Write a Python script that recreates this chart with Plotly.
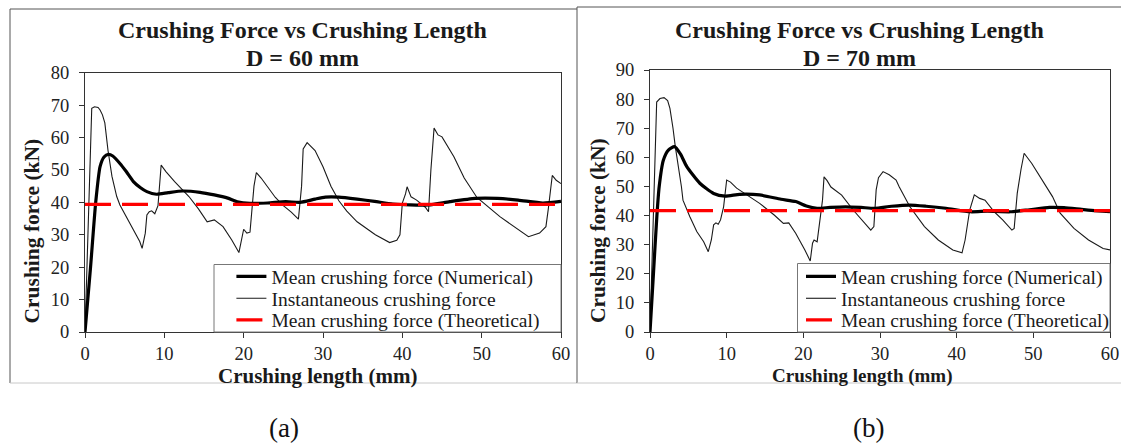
import plotly.graph_objects as go

# ---------------- DATA ----------------
# Panel (a): D = 60 mm
a_inst_x = [0, 0.4, 0.85, 1.2, 1.65, 1.9, 2.2, 2.5, 2.9, 3.4, 4.0, 4.4, 5.3, 6.1, 6.9, 7.2, 7.6, 7.8, 8.1, 8.4,
            8.8, 9.2, 9.4, 9.6, 10.2, 11.3, 13.1, 14.3, 15.4, 16.3, 17.4, 18.5, 19.4, 19.7, 20.0, 20.4, 20.8,
            21.3, 21.6, 22.2, 22.8, 24.0, 25.0, 26.0, 26.9, 27.3, 27.5, 28.0, 29.0, 30.0, 31.0, 32.0, 33.0,
            34.3, 36.6, 38.4, 39.3, 39.7, 40.0, 40.4, 40.6, 41.1, 41.8, 42.9, 43.3, 43.6, 44.0, 44.5, 45.0,
            46.5, 47.8, 49.4, 52.3, 54.6, 55.9, 57.3, 58.1, 58.4, 58.6, 58.9, 59.4, 60.0]
a_inst_y = [0, 30, 69, 69.5, 69.3, 68.5, 67, 64.5, 56, 48, 41.8, 39.2, 35.2, 31.5, 27.9, 25.8, 30.5, 36.1, 37.1, 37.4,
            36.5, 39, 45, 51.5, 49.5, 46.4, 41.8, 38, 34, 34.6, 32.5, 28.4, 24.5, 27.9, 31.7, 30.5, 30.8,
            45, 49.2, 47.5, 45.5, 41.5, 39, 37, 34.8, 45, 56.5, 58.4, 56, 51, 45, 40.5, 37.3,
            34, 30, 27.6, 28.3, 30, 39.8, 42.6, 44.8, 41.7, 40.7, 38.5, 37.1, 50, 62.9, 60.8, 60.2,
            54.1, 47.5, 41.5, 35.6, 31.5, 29.4, 30.5, 32.5, 38, 43, 48.3, 46.8, 45.8]
a_mean_x = [0, 0.7, 1.35, 1.9, 2.4, 2.95, 3.5, 4.4, 5.2, 6.1, 7.0, 7.8, 9.0, 10.5, 12.3, 14.5, 16.3, 18.0, 19.2,
            20.8, 23.0, 25.3, 27.1, 29.0, 30.3, 32.0, 34.3, 36.5, 38.8, 41.0, 43.3, 46.0, 49.2, 52.0, 54.6,
            57.7, 60.0]
a_mean_y = [0, 20, 40, 51, 54, 54.8, 54.3, 52, 49.5, 46.4, 44.5, 43.3, 42.5, 43, 43.5, 43.1, 42.3, 41.3, 40.2,
            39.7, 39.8, 40.2, 40.0, 41.0, 41.6, 41.6, 41.0, 40.3, 39.5, 39.2, 39.2, 40.2, 41.2, 41.2, 40.7,
            39.8, 40.3]
a_theory = 39.4

# Panel (b): D = 70 mm
b_inst_x = [0, 0.4, 0.87, 1.3, 1.83, 2.3, 2.6, 3.0, 3.3, 4.1, 4.3, 5.2, 6.1, 7.0, 7.6, 8.0, 8.3, 8.6, 8.9, 9.2,
            9.6, 10.0, 10.5, 11.3, 14.3, 16.2, 17.4, 18.1, 19.0, 20.2, 20.9, 21.2, 21.4, 21.8, 22.0, 22.5,
            22.7, 23.1, 23.6, 25.0, 26.5, 27.9, 28.8, 29.2, 29.5, 29.8, 30.4, 31.2, 32.1, 32.5, 33.9, 35.8,
            37.6, 39.5, 40.7, 41.1, 41.7, 42.3, 43.0, 43.7, 44.9, 46.0, 47.2, 47.5, 47.9, 48.4, 48.8, 49.8,
            51.6, 52.5, 53.5, 55.3, 57.2, 59.1, 60.0]
b_inst_y = [0, 35, 79, 80.2, 80.5, 79.5, 76.8, 70, 63.7, 49.9, 45.3, 39.6, 34.5, 31, 27.6, 31.6, 36.8, 37.5, 37, 38.5,
            43, 52.2, 51.5, 49.4, 44.2, 40.2, 37.3, 37.5, 33.9, 28.2, 24.4, 30.5, 31.6, 31, 35, 45.3,
            53.3, 52, 49.8, 47, 41.9, 37.9, 35, 36.2, 48.8, 53, 55.1, 54, 52.2, 49.9, 43, 36.2,
            31.6, 28.2, 27.2, 31.6, 41.9, 47.1, 45.9, 45.3, 41.3, 38.5, 35, 35.6, 47.6, 56, 61.4, 57.9,
            50.5, 46.5, 40.8, 35.6, 31.6, 28.7, 28.2]
b_mean_x = [0, 0.45, 0.9, 1.2, 1.74, 2.4, 3.2, 4.0, 4.8, 6.5, 8.3, 9.8, 11.7, 14.3, 17.1, 19.0, 20.4, 21.8, 23.5,
            25.5, 27.5, 29.3, 31.5, 33.9, 36.0, 38.6, 41.8, 44.0, 47.0, 49.5, 52.1, 54.0, 56.3, 58.0, 60.0]
b_mean_y = [0, 20, 40, 50, 59, 62.5, 63.7, 61, 56.8, 51.1, 47.6, 46.7, 47.3, 47.1, 45.6, 44.8, 43.3, 42.5, 42.8,
            43, 42.8, 42.5, 43.2, 43.6, 43.2, 42.5, 41.3, 41.5, 41.3, 42, 42.8, 42.7, 42.1, 41.7, 41.3]
b_theory = 41.7

x_range = [0, 60]
a_y_max = 80
b_y_max = 90

names = ["Mean crushing force (Numerical)", "Instantaneous crushing force", "Mean crushing force (Theoretical)"]
titles = ["Crushing Force vs Crushing Length", "D = 60 mm", "D = 70 mm"]
x_title = "Crushing length (mm)"
y_title = "Crushing force (kN)"
captions = ["(a)", "(b)"]

# ---------------- LAYOUT HELPERS ----------------
W, H = 1121, 448
SERIF = "'Liberation Serif', 'Times New Roman', serif"


def px(x):
    return x / W


def py(y):
    return (H - y) / H


fig = go.Figure()

panels = [
    dict(xa="x", ya="y", inst=(a_inst_x, a_inst_y), mean=(a_mean_x, a_mean_y), th=a_theory,
         legs=("legend", "legend2", "legend3"), leg_x=231.4),
    dict(xa="x2", ya="y2", inst=(b_inst_x, b_inst_y), mean=(b_mean_x, b_mean_y), th=b_theory,
         legs=("legend4", "legend5", "legend6"), leg_x=801),
]

for p in panels:
    fig.add_trace(go.Scatter(x=p["inst"][0], y=p["inst"][1], mode="lines", name=names[1],
                             line=dict(color="#1a1a1a", width=1.1), xaxis=p["xa"], yaxis=p["ya"],
                             legend=p["legs"][1]))
    fig.add_trace(go.Scatter(x=p["mean"][0], y=p["mean"][1], mode="lines", name=names[0],
                             line=dict(color="black", width=3.2, shape="spline", smoothing=0.6),
                             xaxis=p["xa"], yaxis=p["ya"], legend=p["legs"][0]))
    fig.add_trace(go.Scatter(x=x_range, y=[p["th"], p["th"]], mode="lines", name=names[2],
                             line=dict(color="#ff0000", width=3.2, dash="26px,11px"),
                             xaxis=p["xa"], yaxis=p["ya"], legend=p["legs"][2]))

axis_common = dict(showgrid=False, zeroline=False, showline=True, mirror=True, linecolor="#333",
                   linewidth=1.3, ticks="outside", ticklen=5, tickcolor="#333", tickwidth=1,
                   tickfont=dict(family=SERIF, size=18.5, color="#222"))

fig.update_layout(
    width=W, height=H, margin=dict(l=0, r=0, t=0, b=0, autoexpand=False),
    paper_bgcolor="white", plot_bgcolor="white",
    xaxis=dict(domain=[px(85), px(561)], range=x_range, dtick=10, anchor="y",
               ticklabelstandoff=0, **axis_common),
    yaxis=dict(domain=[py(332), py(72.7)], range=[0, a_y_max], dtick=10, anchor="x",
               ticklabelstandoff=6, **axis_common),
    xaxis2=dict(domain=[px(650), px(1110)], range=x_range, dtick=10, anchor="y2",
                ticklabelstandoff=0, **axis_common),
    yaxis2=dict(domain=[py(332), py(70)], range=[0, b_y_max], dtick=10, anchor="x2",
                ticklabelstandoff=6, **axis_common),
    showlegend=True,
)

# legends: one per row so the row spacing matches the original
row_y = [276.7, 298.6, 320.2]
leg_font = dict(family=SERIF, size=19.5, color="#1a1a1a")
for p in panels:
    for i, lg in enumerate(p["legs"]):
        fig.update_layout(**{lg: dict(x=px(p["leg_x"]), y=py(row_y[i]), xanchor="left", yanchor="middle",
                                      xref="paper", yref="paper", bgcolor="rgba(0,0,0,0)",
                                      borderwidth=0, font=leg_font, itemwidth=30)})

shapes = []
# legend boxes
for (x0, y0, x1) in [(214, 264.5, 561), (797.5, 263.5, 1110)]:
    shapes.append(dict(type="rect", xref="paper", yref="paper", x0=px(x0), x1=px(x1), y0=py(332), y1=py(y0),
                       line=dict(color="#777", width=1), fillcolor="white", layer="above"))
# panel frames
frame_dark = "#555"
frame_light = "#c8c8c8"
shapes += [
    dict(type="line", xref="paper", yref="paper", x0=px(10), x1=px(577), y0=py(9), y1=py(9),
         line=dict(color=frame_dark, width=1)),
    dict(type="line", xref="paper", yref="paper", x0=px(10), x1=px(10), y0=py(9), y1=py(383),
         line=dict(color=frame_dark, width=1)),
    dict(type="line", xref="paper", yref="paper", x0=px(10), x1=px(577), y0=py(383), y1=py(383),
         line=dict(color=frame_light, width=1)),
    dict(type="line", xref="paper", yref="paper", x0=px(577), x1=px(1121), y0=py(7), y1=py(7),
         line=dict(color=frame_dark, width=1)),
    dict(type="line", xref="paper", yref="paper", x0=px(577), x1=px(577), y0=py(7), y1=py(383),
         line=dict(color=frame_dark, width=1)),
    dict(type="line", xref="paper", yref="paper", x0=px(577), x1=px(1121), y0=py(383), y1=py(383),
         line=dict(color=frame_light, width=1)),
]
fig.update_layout(shapes=shapes)

ann = []
title_font = dict(family=SERIF, size=24, color="#1a1a1a")
ax_font = dict(family=SERIF, size=21, color="#1a1a1a")


def text(x, y, s, font, angle=0):
    ann.append(dict(x=px(x), y=py(y), xref="paper", yref="paper", text=s, showarrow=False,
                    xanchor="center", yanchor="middle", font=font, textangle=angle))


text(302.8, 30, "<b>" + titles[0] + "</b>", title_font)
text(302.8, 58.5, "<b>" + titles[1] + "</b>", title_font)
text(859, 30, "<b>" + titles[0] + "</b>", title_font)
text(859, 58.5, "<b>" + titles[2] + "</b>", title_font)
text(317.5, 376, "<b>" + x_title + "</b>", ax_font)
text(862, 376, "<b>" + x_title + "</b>", dict(family=SERIF, size=19, color="#1a1a1a"))
text(31.5, 231, "<b>" + y_title + "</b>", dict(family=SERIF, size=21.5, color="#1a1a1a"), -90)
text(598, 230, "<b>" + y_title + "</b>", dict(family=SERIF, size=21.5, color="#1a1a1a"), -90)
text(284, 428, captions[0], dict(family=SERIF, size=27, color="#111"))
text(868, 428, captions[1], dict(family=SERIF, size=27, color="#111"))
fig.update_layout(annotations=ann)

fig.write_html("out.html")
